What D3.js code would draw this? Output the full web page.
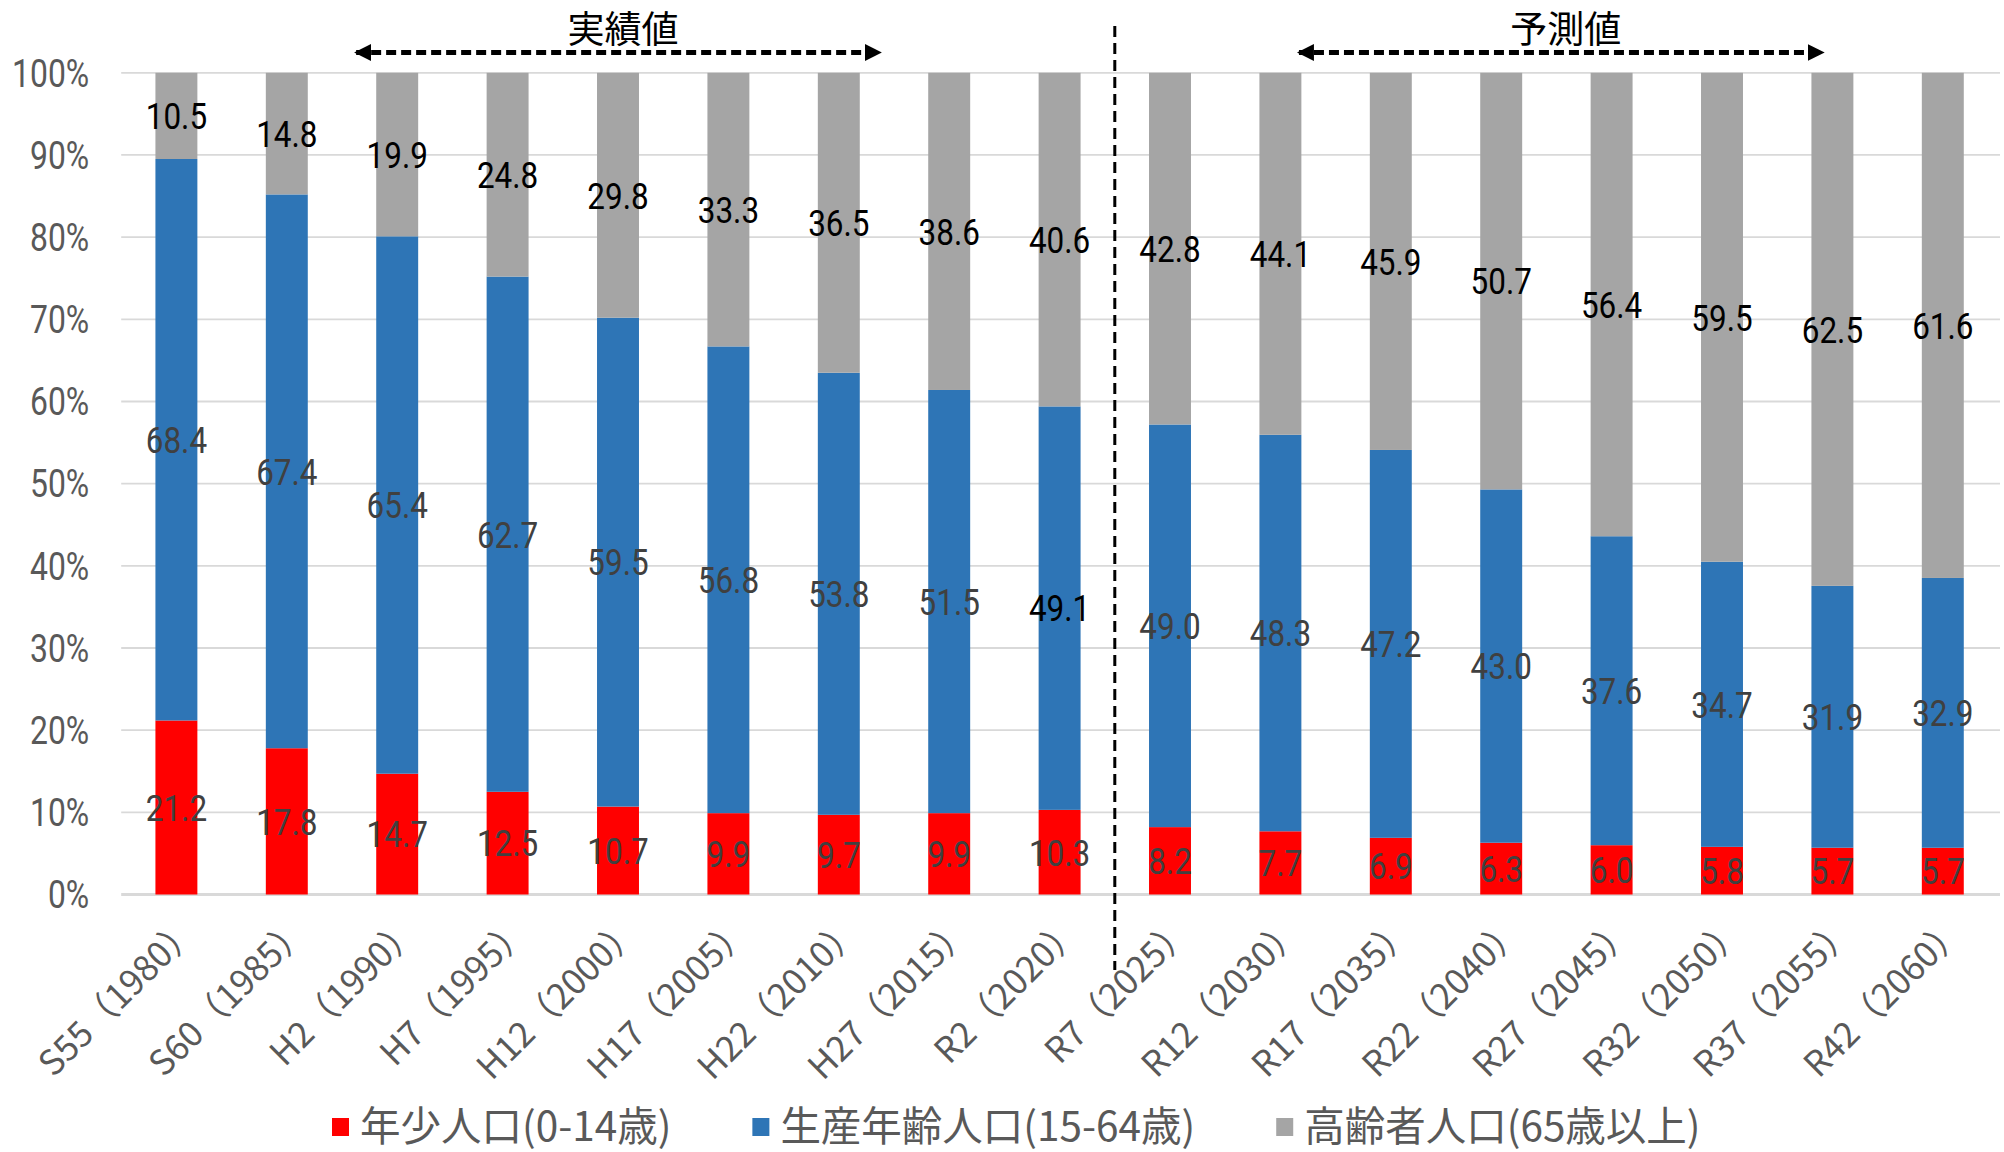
<!DOCTYPE html>
<html>
<head>
<meta charset="utf-8">
<script src="https://cdn.jsdelivr.net/npm/d3@7"></script>
<style>
  body { margin: 0; background: #fff; }
  svg { display: block; }
</style>
</head>
<body>
<svg id="chart" width="2004" height="1152"></svg>
<script>
// Population share by age group (%), census results and projections
const categories = [
  "S55（1980）", "S60（1985）", "H2（1990）", "H7（1995）", "H12（2000）",
  "H17（2005）", "H22（2010）", "H27（2015）", "R2（2020）", "R7（2025）",
  "R12（2030）", "R17（2035）", "R22（2040）", "R27（2045）", "R32（2050）",
  "R37（2055）", "R42（2060）"
];
const youth   = [21.2, 17.8, 14.7, 12.5, 10.7, 9.9, 9.7, 9.9, 10.3, 8.2, 7.7, 6.9, 6.3, 6.0, 5.8, 5.7, 5.7];
const working = [68.4, 67.4, 65.4, 62.7, 59.5, 56.8, 53.8, 51.5, 49.1, 49.0, 48.3, 47.2, 43.0, 37.6, 34.7, 31.9, 32.9];
const elderly = [10.5, 14.8, 19.9, 24.8, 29.8, 33.3, 36.5, 38.6, 40.6, 42.8, 44.1, 45.9, 50.7, 56.4, 59.5, 62.5, 61.6];

const seriesKeys   = ["youth", "working", "elderly"];
const seriesNames  = ["年少人口(0-14歳)", "生産年齢人口(15-64歳)", "高齢者人口(65歳以上)"];
const seriesColors = ["#ff0000", "#2e75b6", "#a5a5a5"];
const yTickValues  = [0, 0.1, 0.2, 0.3, 0.4, 0.5, 0.6, 0.7, 0.8, 0.9, 1.0];

// Period annotations: label and span expressed in category-index units
const periodLabels = ["実績値", "予測値"];
const periodSpans  = [[1.61, 6.39], [10.15, 14.93]];
const dividerIndex = 8.5;   // between the last actual and first projected year

// Labels drawn in black on the working-age series
const boldLabelCategories = ["R2（2020）"];

const rows = categories.map((c, i) => ({
  category: c, youth: youth[i], working: working[i], elderly: elderly[i]
}));

const svg = d3.select("#chart");
const plot = { left: 121.2, right: 1998, top: 72.8, bottom: 894.5 };

const x = d3.scaleBand()
  .domain(categories)
  .range([plot.left, plot.right])
  .paddingInner(0.62)
  .paddingOuter(0.31);

const y = d3.scaleLinear().domain([0, 1]).range([plot.bottom, plot.top]);

const indexToX = t => x(categories[0]) + x.bandwidth() / 2 + t * x.step();

const stacked = d3.stack().keys(seriesKeys).offset(d3.stackOffsetExpand)(rows);

// Gridlines
const grid = svg.append("g");
grid.selectAll("line")
  .data(yTickValues)
  .join("line")
  .attr("x1", plot.left)
  .attr("x2", 2000)
  .attr("y1", d => y(d))
  .attr("y2", d => y(d))
  .attr("stroke", "#d9d9d9")
  .attr("stroke-width", d => d === 0 ? 3 : 1.8);

// Y axis labels
const yAxis = svg.append("g")
  .attr("transform", `translate(${plot.left},0)`)
  .call(d3.axisLeft(y).tickValues(yTickValues).tickFormat(d3.format(".0%")).tickSize(0).tickPadding(0));
yAxis.select(".domain").remove();
yAxis.selectAll("text")
  .attr("fill", "#595959")
  .attr("font-family", "Roboto, 'Noto Sans', sans-serif")
  .attr("font-size", 38)
  .attr("text-anchor", "end")
  .attr("dy", "0.35em")
  .attr("x", 0)
  .attr("transform", "translate(-32,0) scale(0.84,1)");

// Bars
const layers = svg.append("g")
  .selectAll("g")
  .data(stacked)
  .join("g")
  .attr("fill", (d, i) => seriesColors[i]);

layers.selectAll("rect")
  .data(d => d)
  .join("rect")
  .attr("x", d => x(d.data.category))
  .attr("width", x.bandwidth())
  .attr("y", d => y(d[1]))
  .attr("height", d => y(d[0]) - y(d[1]));

// Value labels, centred in each segment
const labelLayers = svg.append("g")
  .selectAll("g")
  .data(stacked)
  .join("g");

labelLayers.selectAll("text")
  .data(s => s.map(d => ({ key: s.key, d })))
  .join("text")
  .attr("transform", o => {
    const cx = x(o.d.data.category) + x.bandwidth() / 2;
    const cy = y((o.d[0] + o.d[1]) / 2);
    return `translate(${cx},${cy}) scale(0.85,1)`;
  })
  .attr("text-anchor", "middle")
  .attr("dy", "0.36em")
  .attr("font-family", "Roboto, 'Noto Sans', sans-serif")
  .attr("font-size", 37)
  .attr("fill", o => {
    if (o.key === "elderly") return "#000";
    if (o.key === "working" && boldLabelCategories.includes(o.d.data.category)) return "#000";
    return "#404040";
  })
  .text(o => o.d.data[o.key].toFixed(1));

// X axis labels, rotated
const xAxis = svg.append("g");
xAxis.selectAll("text")
  .data(categories)
  .join("text")
  .attr("transform", c => `translate(${x(c) + x.bandwidth() / 2 + 15},${923}) rotate(-45)`)
  .attr("text-anchor", "end")
  .attr("dy", "0.35em")
  .attr("font-family", "'Noto Sans CJK JP', sans-serif")
  .attr("font-size", 35)
  .attr("fill", "#595959")
  .text(c => c);

// Divider between actual and projected values
svg.append("line")
  .attr("x1", indexToX(dividerIndex))
  .attr("x2", indexToX(dividerIndex))
  .attr("y1", 26)
  .attr("y2", 970)
  .attr("stroke", "#000")
  .attr("stroke-width", 3)
  .attr("stroke-dasharray", "11,6");

// Period arrows
const defs = svg.append("defs");
defs.append("marker")
  .attr("id", "arrowhead")
  .attr("viewBox", "0 0 17 17")
  .attr("refX", 15)
  .attr("refY", 8.5)
  .attr("markerWidth", 17)
  .attr("markerHeight", 17)
  .attr("markerUnits", "userSpaceOnUse")
  .attr("orient", "auto-start-reverse")
  .append("path")
  .attr("d", "M0,0 L17,8.5 L0,17 Z")
  .attr("fill", "#000");

const arrowY = 52.5;
periodLabels.forEach((label, i) => {
  const [a, b] = periodSpans[i];
  const x1 = indexToX(a), x2 = indexToX(b);
  svg.append("line")
    .attr("x1", x1 + 2).attr("x2", x2 - 2)
    .attr("y1", arrowY).attr("y2", arrowY)
    .attr("stroke", "#000")
    .attr("stroke-width", 5)
    .attr("stroke-dasharray", "10,5")
    .attr("marker-start", "url(#arrowhead)")
    .attr("marker-end", "url(#arrowhead)");
  svg.append("text")
    .attr("x", (x1 + x2) / 2 + 5)
    .attr("y", 29)
    .attr("dy", "0.38em")
    .attr("text-anchor", "middle")
    .attr("font-family", "'Noto Sans CJK JP', sans-serif")
    .attr("font-size", 37)
    .attr("fill", "#000")
    .text(label);
});

// Legend
const legend = svg.append("g");
let lx = 332;
seriesNames.forEach((name, i) => {
  legend.append("rect")
    .attr("x", lx).attr("y", 1118)
    .attr("width", 17).attr("height", 18)
    .attr("fill", seriesColors[i]);
  const t = legend.append("text")
    .attr("x", lx + 28)
    .attr("y", 1126)
    .attr("dy", "0.36em")
    .attr("font-family", "'Noto Sans CJK JP', sans-serif")
    .attr("font-size", 40.5)
    .attr("fill", "#595959")
    .text(name);
  lx += 28 + t.node().getComputedTextLength() + 81;
});
</script>
</body>
</html>
